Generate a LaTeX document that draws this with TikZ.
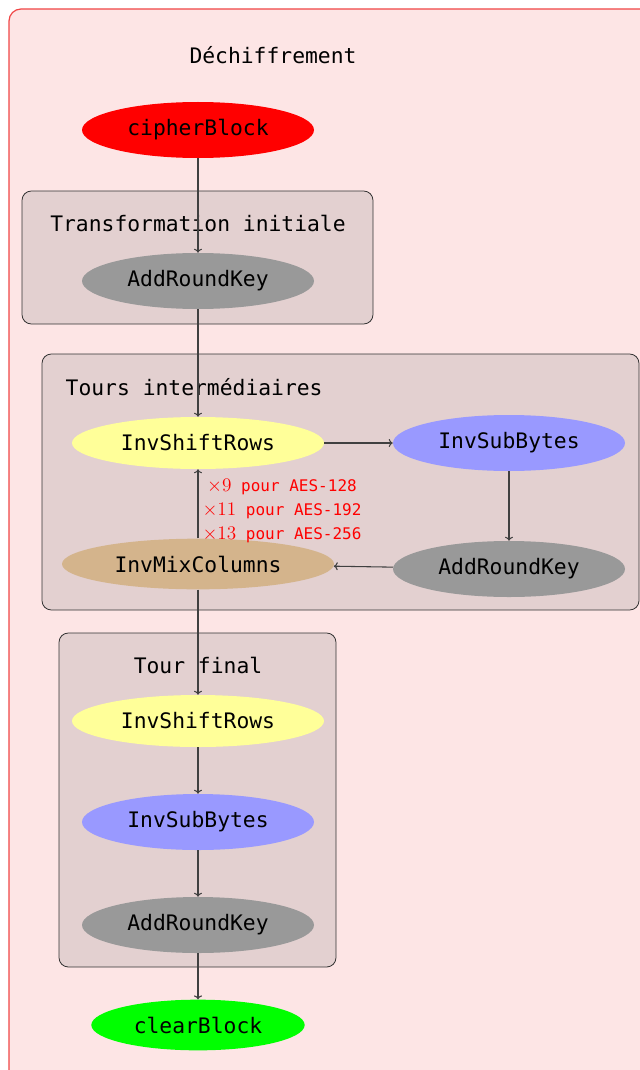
\documentclass[tikz,border=0pt]{standalone}
\usepackage{fontspec}
\newfontfamily\mono{DejaVu Sans Mono}
\usetikzlibrary{shapes.geometric,arrows.meta}
\definecolor{bgpink}{RGB}{253,229,229}
\definecolor{framered}{RGB}{240,70,70}
\definecolor{boxc}{RGB}{227,208,208}
\definecolor{yel}{RGB}{255,255,153}
\definecolor{blu}{RGB}{153,153,255}
\definecolor{tanc}{RGB}{212,180,140}
\definecolor{gry}{RGB}{153,153,153}
\newcommand\rndx[1]{{\fontsize{15}{18}\selectfont$\times#1$}}
\tikzset{
  op/.style={ellipse, inner sep=0pt, font=\mono\fontsize{16}{19}\selectfont},
  grp/.style={draw=black!80, fill=boxc, rounded corners=7pt, line width=0.6pt},
  ttl/.style={font=\mono\fontsize{16}{19}\selectfont},
  conn/.style={-{To[length=3pt,width=6pt]}, draw=black!75, line width=0.8pt},
  rnd/.style={text=red, align=center, font=\mono\fontsize{12}{18}\selectfont},
}
\begin{document}
\begin{tikzpicture}[x=0.75pt,y=-0.75pt]
\useasboundingbox (0,0) rectangle (639,1070);
\draw[fill=bgpink, draw=framered, line width=0.9pt, rounded corners=9pt] (9,9) rectangle (680,1110);
\node[ttl] (title) at (273,55) {Déchiffrement};

% groups
\draw[grp] (22,191) rectangle (373,324);
\draw[grp] (42,354) rectangle (639,610);
\draw[grp] (59,633) rectangle (336,967);
\node[ttl] (t1) at (198,223) {Transformation initiale};
\node[ttl, anchor=west] (t2) at (61,387) {Tours intermédiaires};
\node[ttl] (t3) at (198,665) {Tour final};

% nodes
\node[op, fill=red, minimum width=174pt, minimum height=42pt] (cb) at (198,130) {cipherBlock};
\node[op, fill=gry, minimum width=174pt, minimum height=42pt] (ark1) at (198,281) {AddRoundKey};

\node[op, fill=yel, minimum width=189pt, minimum height=39pt] (isr2) at (198,443) {InvShiftRows};
\node[op, fill=blu, minimum width=174pt, minimum height=42pt] (isb2) at (509,443) {InvSubBytes};
\node[op, fill=gry, minimum width=174pt, minimum height=42pt] (ark2) at (509,569) {AddRoundKey};
\node[op, fill=tanc, minimum width=204pt, minimum height=38pt] (imc2) at (198,564) {InvMixColumns};
\node[rnd] (rounds) at (282,511) {\rndx{9} pour AES-128\\\rndx{11} pour AES-192\\\rndx{13} pour AES-256};

\node[op, fill=yel, minimum width=189pt, minimum height=39pt] (isr3) at (198,721) {InvShiftRows};
\node[op, fill=blu, minimum width=174pt, minimum height=42pt] (isb3) at (198,822) {InvSubBytes};
\node[op, fill=gry, minimum width=174pt, minimum height=42pt] (ark3) at (198,925) {AddRoundKey};

\node[op, fill=green, minimum width=160pt, minimum height=38pt] (clr) at (198,1025) {clearBlock};

% connectors
\draw[conn] (cb) -- (ark1);
\draw[conn] (ark1) -- (isr2);
\draw[conn] (isr2) -- (isb2);
\draw[conn] (isb2) -- (ark2);
\draw[conn] (ark2) -- (imc2);
\draw[conn] (imc2) -- (isr2);
\draw[conn] (imc2) -- (isr3);
\draw[conn] (isr3) -- (isb3);
\draw[conn] (isb3) -- (ark3);
\draw[conn] (ark3) -- (clr);
\end{tikzpicture}
\end{document}
